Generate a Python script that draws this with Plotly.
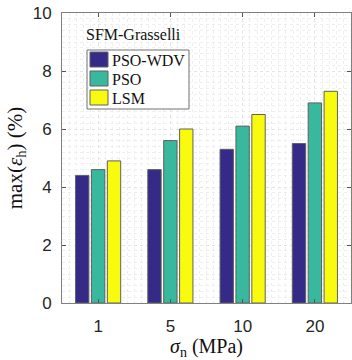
import plotly.graph_objects as go

categories = ["1", "5", "10", "20"]
series_names = ["PSO-WDV", "PSO", "LSM"]
pso_wdv = [4.4, 4.6, 5.3, 5.5]
pso = [4.6, 5.6, 6.1, 6.9]
lsm = [4.9, 6.0, 6.5, 7.3]
colors = ["#352a87", "#38b99e", "#f9fb0e"]
y_ticks = [0, 2, 4, 6, 8, 10]

x_pos = list(range(1, len(categories) + 1))

W, H = 352, 360
ML, MR, MT, MB = 62, 1, 13, 57
PW, PH = W - ML - MR, H - MT - MB

def px_x(p):
    return (p - ML) / PW

def px_y(p):
    return 1 - (p - MT) / PH

fig = go.Figure()
for name, vals, col in zip(series_names, [pso_wdv, pso, lsm], colors):
    fig.add_trace(go.Bar(
        x=x_pos, y=vals, name=name, showlegend=False,
        marker=dict(color=col, line=dict(color="#606060", width=1)),
    ))

serif = "Liberation Serif, DejaVu Serif, serif"
sans = "Liberation Sans, Arial, sans-serif"

shapes = []
annotations = []
# legend box
shapes.append(dict(type="rect", xref="paper", yref="paper",
                   x0=px_x(87), x1=px_x(189), y0=px_y(109), y1=px_y(50),
                   fillcolor="white", line=dict(color="#707070", width=1), layer="above"))
for i, (name, col) in enumerate(zip(series_names, colors)):
    top = 52 + i * 19
    shapes.append(dict(type="rect", xref="paper", yref="paper",
                       x0=px_x(90), x1=px_x(108), y0=px_y(top + 15), y1=px_y(top),
                       fillcolor=col, line=dict(color="#606060", width=1), layer="above"))
    annotations.append(dict(text=name, xref="paper", yref="paper",
                            x=px_x(110), y=px_y(top + 8), xanchor="left", yanchor="middle",
                            showarrow=False,
                            font=dict(family=serif, size=16, color="#111111")))
annotations.append(dict(
    text="SFM-Grasselli", xref="paper", yref="paper",
    x=px_x(84), y=px_y(34), xanchor="left", yanchor="middle", showarrow=False,
    font=dict(family=serif, size=16, color="#111111"),
))

fig.update_layout(
    width=W, height=H,
    margin=dict(l=ML, r=MR, t=MT, b=MB),
    paper_bgcolor="white", plot_bgcolor="white",
    barmode="group", bargap=0.34, bargroupgap=0.16,
    showlegend=False,
    shapes=shapes, annotations=annotations,
)

fig.update_xaxes(
    range=[0.5, 4.5],
    tickmode="array", tickvals=x_pos, ticktext=categories,
    ticks="inside", ticklen=4, tickcolor="#555555",
    showline=True, linecolor="#808080", linewidth=1, mirror="ticks",
    showgrid=True, gridcolor="#e4e4e4", griddash="dot", gridwidth=1,
    zeroline=False,
    tickfont=dict(family=sans, size=17, color="#262626"),
    ticklabelstandoff=8,
    minor=dict(dtick=0.1, tick0=0.5, showgrid=True, gridcolor="#eeeeee", griddash="dot", gridwidth=1),
    title=dict(text="<i>σ</i><sub>n</sub> (MPa)", font=dict(family=serif, size=20, color="#111111"), standoff=7),
)
fig.update_yaxes(
    range=[0, 10],
    tickmode="array", tickvals=y_ticks,
    ticks="inside", ticklen=4, tickcolor="#555555",
    showline=True, linecolor="#808080", linewidth=1, mirror="ticks",
    showgrid=True, gridcolor="#e4e4e4", gridwidth=1, griddash="dot",
    zeroline=False,
    tickfont=dict(family=sans, size=17, color="#262626"),
    ticklabelstandoff=6,
    minor=dict(dtick=0.2, showgrid=True, gridcolor="#eeeeee", griddash="dot", gridwidth=1),
    title=dict(text="max(<i>ε</i><sub>h</sub>) (%)", font=dict(family=serif, size=21, color="#111111"), standoff=4),
)

fig.write_html("out.html")
